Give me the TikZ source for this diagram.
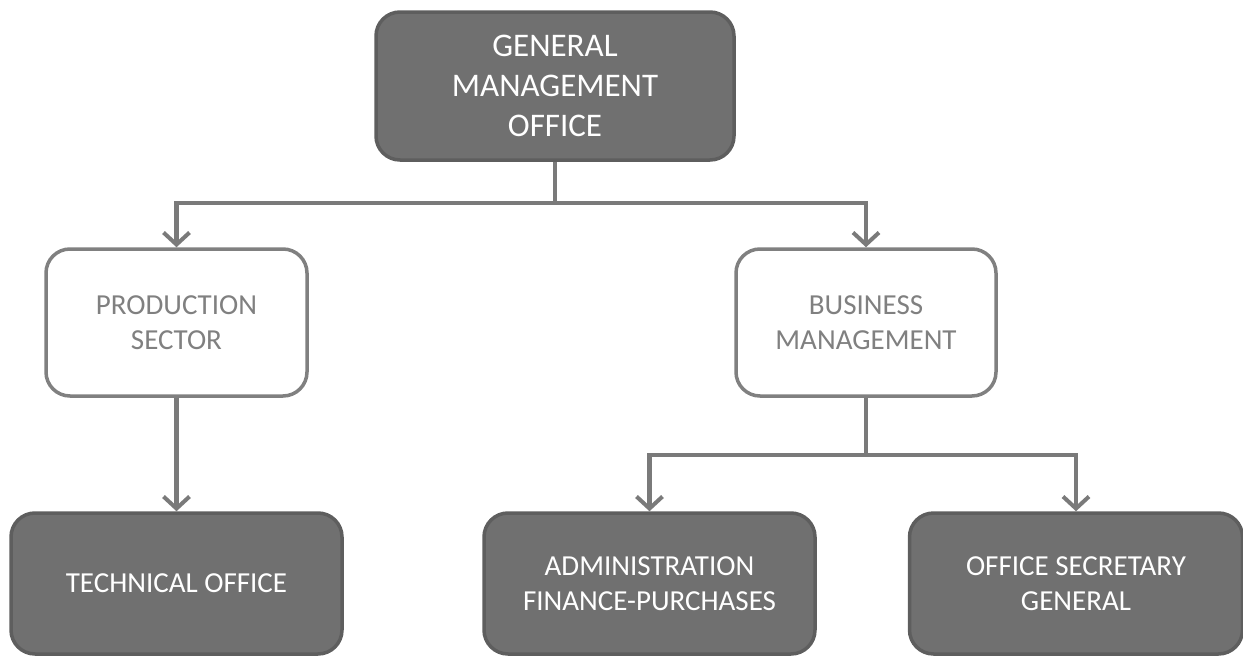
\documentclass[tikz,border=0pt]{standalone}
\usepackage{fontspec}
\setmainfont{Carlito}
\usetikzlibrary{arrows.meta}
\definecolor{darkfill}{HTML}{707070}
\definecolor{darkline}{HTML}{5E5E5E}
\definecolor{lightline}{HTML}{808080}
\definecolor{conn}{HTML}{7A7A7A}
\begin{document}
\begin{tikzpicture}[x=1pt,y=1pt,
  darkbox/.style={draw=darkline, fill=darkfill, line width=3.5pt, rounded corners=24pt,
    text=white, align=center, inner sep=0pt, font=\fontsize{29}{35}\selectfont},
  lightbox/.style={draw=lightline, fill=white, line width=3.5pt, rounded corners=24pt,
    text=lightline, align=center, inner sep=0pt, font=\fontsize{29}{35}\selectfont},
  connector/.style={draw=conn, line width=4.5pt},
  arrowed/.style={connector, -{Straight Barb[length=12pt,width=26pt,line width=4pt]}}]
\useasboundingbox (0,0) rectangle (1243,-656);
\node[darkbox, minimum width=358pt, minimum height=148pt, font=\fontsize{33}{40}\selectfont]
  (top) at (555,-86) {GENERAL\\MANAGEMENT\\OFFICE};
\node[lightbox, minimum width=261pt, minimum height=147pt] (prod) at (176.5,-322.5) {PRODUCTION\\SECTOR};
\node[lightbox, minimum width=260pt, minimum height=147pt] (bus) at (866,-322.5) {BUSINESS\\MANAGEMENT};
\node[darkbox, minimum width=331pt, minimum height=141pt] (tech) at (176.5,-583.5) {TECHNICAL OFFICE};
\node[darkbox, minimum width=331pt, minimum height=141pt] (admin) at (649.5,-583.5) {ADMINISTRATION\\FINANCE-PURCHASES};
\node[darkbox, minimum width=333pt, minimum height=141pt] (office) at (1076,-583.5) {OFFICE SECRETARY\\GENERAL};
\coordinate (j1) at (555,-203);
\coordinate (j2) at (866,-455);
\draw[connector] (top.south) -- (j1);
\draw[arrowed] (j1) -| (prod.north);
\draw[arrowed] (j1) -| (bus.north);
\draw[arrowed] (prod.south) -- (tech.north);
\draw[connector] (bus.south) -- (j2);
\draw[arrowed] (j2) -| (admin.north);
\draw[arrowed] (j2) -| (office.north);
\end{tikzpicture}
\end{document}
